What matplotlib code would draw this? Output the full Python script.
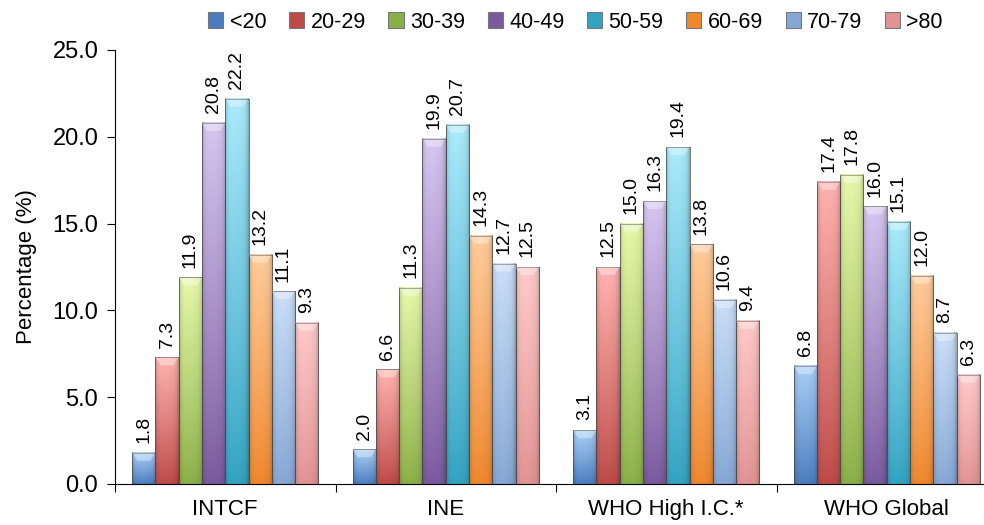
import matplotlib.pyplot as plt
import numpy as np
from matplotlib.colors import to_rgb
from matplotlib.patches import Rectangle, Polygon, Patch

sources = ['INTCF', 'INE', 'WHO High I.C.*', 'WHO Global']
age_groups = ['<20', '20-29', '30-39', '40-49', '50-59', '60-69', '70-79', '>80']

intcf = [1.8, 7.3, 11.9, 20.8, 22.2, 13.2, 11.1, 9.3]
ine = [2.0, 6.6, 11.3, 19.9, 20.7, 14.3, 12.7, 12.5]
who_high = [3.1, 12.5, 15.0, 16.3, 19.4, 13.8, 10.6, 9.4]
who_global = [6.8, 17.4, 17.8, 16.0, 15.1, 12.0, 8.7, 6.3]

# light (top) / dark (bottom) shade for every age group
top_colors = ['#A9CFF7', '#FFB3B0', '#E6F8AA', '#D6C6F0', '#AAEAFB', '#FFCC9C', '#C9DEF8', '#FFC9C9']
bottom_colors = ['#4A7CBE', '#BD4A47', '#8BAF47', '#7A5A9E', '#33A3C2', '#EF872C', '#86A7D4', '#E29393']

plt.rcParams['font.family'] = ['Liberation Sans', 'DejaVu Sans']


def bar_image(top, bottom, ny=80, nx=40):
    top = np.array(to_rgb(top))
    bottom = np.array(to_rgb(bottom))
    t = np.linspace(0, 1, ny)[:, None, None] ** 0.9
    img = bottom + (top - bottom) * t
    u = np.linspace(-1, 1, nx)[None, :, None]
    shade = 1 - 0.22 * np.abs(u) ** 6 - 0.05 * np.clip(u, 0, 1)
    img = np.clip(img * shade, 0, 1)
    return np.broadcast_to(img, (ny, nx, 3))


fig = plt.figure(figsize=(9.84, 5.25), dpi=100)
ax = fig.add_axes([115 / 984, 41 / 525, 882 / 984, 434 / 525])

data = [intcf, ine, who_high, who_global]
n = len(age_groups)
w = 0.1055
px_y = 25 / 434.0
px_x = 1 / 220.5

for g, vals in enumerate(data):
    start = g + 0.5 - n * w / 2
    for i, v in enumerate(vals):
        x0 = start + i * w
        x1 = x0 + w
        ax.imshow(bar_image(top_colors[i], bottom_colors[i]), extent=[x0, x1, 0, v],
                  origin='lower', aspect='auto', zorder=2, interpolation='bilinear')
        ax.add_patch(Rectangle((x0, 0), w, v, fill=False, edgecolor='#4a4a4a',
                               lw=0.7, alpha=0.75, zorder=3))
        d = min(8 * px_y, v / 2)
        ax.add_patch(Polygon([(x0, v), (x1, v), (x1 - 5 * px_x, v - d),
                              (x0 + 5 * px_x, v - d)],
                             closed=True, facecolor='white', alpha=0.35,
                             edgecolor='none', zorder=3))
        ax.annotate(f'{v:.1f}', (x0 + w / 2, v), xytext=(0, 7),
                    textcoords='offset points', rotation=90,
                    ha='center', va='bottom', fontsize=14, zorder=4)

ax.set_xlim(0, 4)
ax.set_ylim(0, 25)
ax.set_yticks(np.arange(0, 25.1, 5))
ax.set_yticklabels([f'{t:.1f}' for t in np.arange(0, 25.1, 5)], fontsize=17)
ax.set_xticks([0, 1, 2, 3, 4])
ax.set_xticklabels([])
ax.set_xticks([0.5, 1.5, 2.5, 3.5], minor=True)
ax.set_xticklabels(sources, minor=True, fontsize=16)
ax.tick_params(axis='x', which='minor', length=0, pad=11)
ax.tick_params(axis='x', which='major', length=6, direction='out')
ax.tick_params(axis='y', length=6, direction='out', pad=6)
ax.spines['top'].set_visible(False)
ax.spines['right'].set_visible(False)
ax.set_ylabel('Percentage (%)', fontsize=16, labelpad=11)

handles = [Patch(facecolor=bottom_colors[i], edgecolor='#777777', lw=0.8)
           for i in range(n)]
fig.legend(handles, age_groups, loc='upper center', bbox_to_anchor=(0.585, 1.015),
           ncol=n, frameon=False, fontsize=15.5, handlelength=0.7, handleheight=0.7,
           handletextpad=0.3, columnspacing=1.05)

fig.savefig('out.png', dpi=100)
